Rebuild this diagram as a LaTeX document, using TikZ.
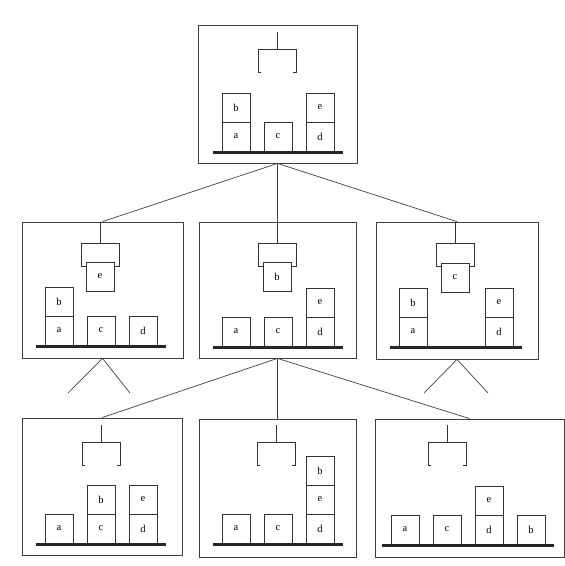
\documentclass[tikz,border=0pt]{standalone}
\usepackage{fontspec}
\setmainfont{Liberation Serif}
\usetikzlibrary{positioning}

\begin{document}
\begin{tikzpicture}[
    x=1pt, y=-1pt,
    world/.style={rectangle, draw=black!75, line width=0.8pt, inner sep=0pt},
    blk/.style={rectangle, draw=black!80, line width=0.6pt,
                minimum width=28pt, minimum height=29pt,
                inner sep=0pt, outer sep=0pt, font=\fontsize{10.5}{12}\selectfont},
    shelf/.style={line width=3pt, draw=black!85},
    link/.style={line width=0.7pt, draw=black!75},
    rope/.style={line width=0.8pt, draw=black!80},
    open hoist/.pic={\draw[rope] (0,0) -- (0,17) (-16,40) -- (-19,40) -- (-19,17)
                     -- (19,17) -- (19,40) -- (16,40);},
    full hoist/.pic={\draw[rope] (0,0) -- (0,21) (-14,44) -- (-19,44) -- (-19,21)
                     -- (19,21) -- (19,44) -- (14,44);}
]
  \useasboundingbox (0,0) rectangle (565,566);

  % Frames
  \node[world, minimum width=159pt, minimum height=138pt] (s0) at (277.5,94) {};
  \node[world, minimum width=161pt, minimum height=136pt] (s1) at (102.5,290) {};
  \node[world, minimum width=157pt, minimum height=136pt] (s2) at (277.5,290) {};
  \node[world, minimum width=162pt, minimum height=137pt] (s3) at (457,290.5) {};
  \node[world, minimum width=160pt, minimum height=137pt] (s4) at (102,486.5) {};
  \node[world, minimum width=157pt, minimum height=138pt] (s5) at (277.5,488) {};
  \node[world, minimum width=189pt, minimum height=138pt] (s6) at (469.5,488) {};

  % Start state
  \pic at (277,32) {open hoist};
  \node[blk, anchor=south west] (a0) at (222,151) {a};
  \node[blk, above=0pt of a0] (b0) {b};
  \node[blk, right=14pt of a0] (c0) {c};
  \node[blk, right=14pt of c0] (d0) {d};
  \node[blk, above=0pt of d0] (e0) {e};
  \draw[shelf] ([shift={(-9,1.5)}]a0.south west) -- ([shift={(9,1.5)}]d0.south east);

  % Picked e
  \pic at (100,222) {full hoist};
  \node[blk, anchor=north] (e1) at (100,262) {e};
  \node[blk, anchor=south west] (a1) at (45,345) {a};
  \node[blk, above=0pt of a1] (b1) {b};
  \node[blk, right=14pt of a1] (c1) {c};
  \node[blk, right=14pt of c1] (d1) {d};
  \draw[shelf] ([shift={(-9,1.5)}]a1.south west) -- ([shift={(9,1.5)}]d1.south east);

  % Picked b
  \pic at (277,222) {full hoist};
  \node[blk, anchor=north] (b2) at (277,262) {b};
  \node[blk, anchor=south west] (a2) at (222,346) {a};
  \node[blk, right=14pt of a2] (c2) {c};
  \node[blk, right=14pt of c2] (d2) {d};
  \node[blk, above=0pt of d2] (e2) {e};
  \draw[shelf] ([shift={(-9,1.5)}]a2.south west) -- ([shift={(9,1.5)}]d2.south east);

  % Picked c
  \pic at (455,222) {full hoist};
  \node[blk, anchor=north] (c3) at (455,263) {c};
  \node[blk, anchor=south west] (a3) at (399,346) {a};
  \node[blk, above=0pt of a3] (b3) {b};
  \node[blk, right=58pt of a3] (d3) {d};
  \node[blk, above=0pt of d3] (e3) {e};
  \draw[shelf] ([shift={(-9,1.5)}]a3.south west) -- ([shift={(9,1.5)}]d3.south east);

  % b put on c
  \pic at (101,425) {open hoist};
  \node[blk, anchor=south west] (a4) at (45,543) {a};
  \node[blk, right=14pt of a4] (c4) {c};
  \node[blk, above=0pt of c4] (b4) {b};
  \node[blk, right=14pt of c4] (d4) {d};
  \node[blk, above=0pt of d4] (e4) {e};
  \draw[shelf] ([shift={(-9,1.5)}]a4.south west) -- ([shift={(9,1.5)}]d4.south east);

  % b put on e
  \pic at (276,425) {open hoist};
  \node[blk, anchor=south west] (a5) at (222,543) {a};
  \node[blk, right=14pt of a5] (c5) {c};
  \node[blk, right=14pt of c5] (d5) {d};
  \node[blk, above=0pt of d5] (e5) {e};
  \node[blk, above=0pt of e5] (b5) {b};
  \draw[shelf] ([shift={(-9,1.5)}]a5.south west) -- ([shift={(9,1.5)}]d5.south east);

  % b put on table
  \pic at (447,425) {open hoist};
  \node[blk, anchor=south west] (a6) at (391,544) {a};
  \node[blk, right=14pt of a6] (c6) {c};
  \node[blk, right=14pt of c6] (d6) {d};
  \node[blk, above=0pt of d6] (e6) {e};
  \node[blk, right=14pt of d6] (b6) {b};
  \draw[shelf] ([shift={(-9,1.5)}]a6.south west) -- ([shift={(9,1.5)}]b6.south east);

  % Tree edges
  \coordinate (l1) at (68,393);
  \coordinate (l2) at (130,393);
  \coordinate (r1) at (424,393);
  \coordinate (r2) at (488,393);
  \draw[link] (s0.south) -- (s1.north);
  \draw[link] (s0.south) -- (s2.north);
  \draw[link] (s0.south) -- (s3.north);
  \draw[link] (s2.south) -- (s4.north);
  \draw[link] (s2.south) -- (s5.north);
  \draw[link] (s2.south) -- (s6.north);
  \draw[link] (s1.south) -- (l1);
  \draw[link] (s1.south) -- (l2);
  \draw[link] (s3.south) -- (r1);
  \draw[link] (s3.south) -- (r2);

\end{tikzpicture}
\end{document}
